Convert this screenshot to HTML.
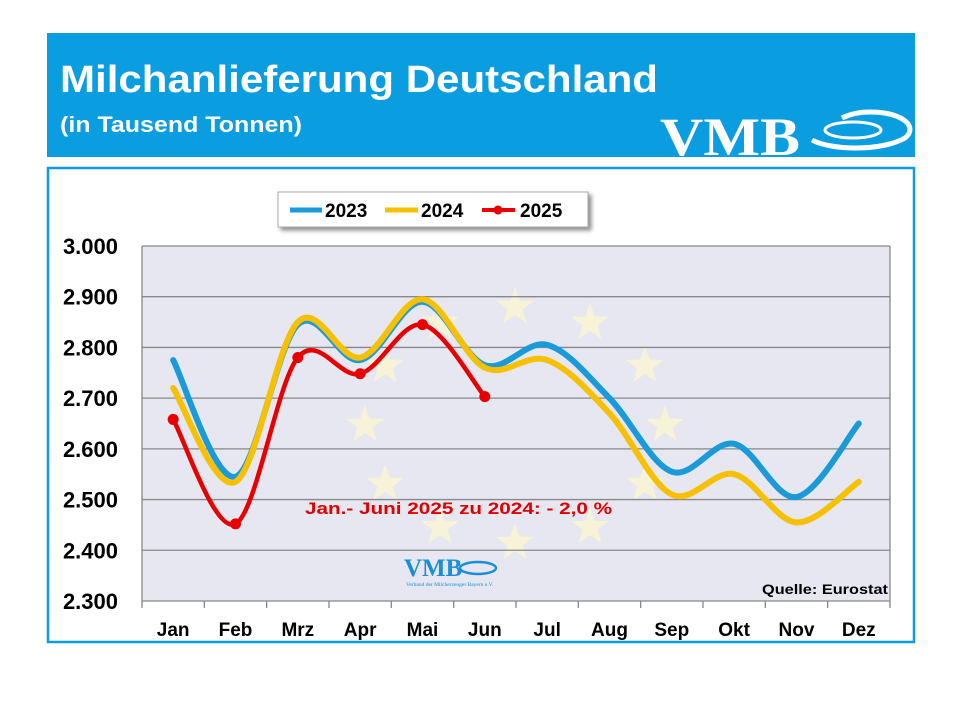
<!DOCTYPE html>
<html><head><meta charset="utf-8"><style>
body{margin:0;width:960px;height:720px;background:#fff;position:relative;overflow:hidden;font-family:"Liberation Sans",sans-serif}
</style></head><body>
<svg width="960" height="720" viewBox="0 0 960 720" xmlns="http://www.w3.org/2000/svg" id="s">
<defs>
<filter id="sh" x="-10%" y="-10%" width="130%" height="150%"><feDropShadow dx="3" dy="3" stdDeviation="2" flood-color="#000" flood-opacity="0.45"/></filter>
<symbol id="star" viewBox="-1 -1 2 2"><polygon points="0,-1 0.235,-0.324 0.951,-0.309 0.38,0.124 0.588,0.809 0,0.4 -0.588,0.809 -0.38,0.124 -0.951,-0.309 -0.235,-0.324" fill="#f6f3d8"/></symbol>
</defs>
<rect x="47" y="33" width="868" height="124" fill="#0a9ddf"/>
<text x="60" y="92" fill="#fff" font-size="38" font-weight="bold" font-family="Liberation Sans, sans-serif" textLength="598" lengthAdjust="spacingAndGlyphs">Milchanlieferung Deutschland</text>
<text x="60" y="132" fill="#fff" font-size="22" font-weight="bold" font-family="Liberation Sans, sans-serif" textLength="242" lengthAdjust="spacingAndGlyphs">(in Tausend Tonnen)</text>
<text x="660" y="155" fill="#fff" font-size="54" font-weight="bold" font-family="Liberation Serif, serif" textLength="140" lengthAdjust="spacingAndGlyphs">VMB</text>
<path d="M812,140 C830,150 880,152 905,138 C918,128 905,112 870,112 C860,112 850,114 842,118" fill="none" stroke="#fff" stroke-width="5"/>
<ellipse cx="853" cy="130" rx="28" ry="8" fill="none" stroke="#fff" stroke-width="3"/>
<rect x="48" y="168" width="866" height="474" fill="#fff" stroke="#0a9ddf" stroke-width="2.5"/>
<rect x="142" y="246" width="748" height="355" fill="#e6e7f1"/>
<g id="stars"></g>
<g id="grid" stroke="#888" stroke-width="1.3"></g>
<g id="lines"></g>
<g font-family="Liberation Sans, sans-serif" font-weight="bold" font-size="22" fill="#000" text-anchor="end" id="ylab"></g>
<g font-family="Liberation Sans, sans-serif" font-weight="bold" font-size="19" fill="#000" text-anchor="middle" id="xlab"></g>
<text x="305" y="514" fill="#e00000" font-size="17" font-weight="bold" font-family="Liberation Sans, sans-serif" textLength="307" lengthAdjust="spacingAndGlyphs">Jan.- Juni 2025 zu 2024: - 2,0 %</text>
<text x="762" y="594" fill="#000" font-size="14" font-weight="bold" font-family="Liberation Sans, sans-serif" textLength="126" lengthAdjust="spacingAndGlyphs">Quelle: Eurostat</text>
<text x="404" y="576" fill="#1a8fd6" font-size="25" font-weight="bold" font-family="Liberation Serif, serif">VMB</text>
<ellipse cx="478" cy="568" rx="18" ry="6" fill="none" stroke="#1a8fd6" stroke-width="2.5"/>
<text x="406" y="586" fill="#1a8fd6" font-size="5.5" font-family="Liberation Serif, serif">Verband der Milcherzeuger Bayern e.V.</text>
<rect x="278" y="192" width="310" height="35" fill="#fff" stroke="#aaa" filter="url(#sh)"/>
<g font-family="Liberation Sans, sans-serif" font-weight="bold" font-size="19" fill="#000">
<line x1="290" y1="210" x2="322" y2="210" stroke="#1a9ad8" stroke-width="5"/><text x="325" y="217">2023</text>
<line x1="385" y1="210" x2="418" y2="210" stroke="#f7c000" stroke-width="5"/><text x="421" y="217">2024</text>
<line x1="482" y1="210" x2="515" y2="210" stroke="#e80000" stroke-width="4"/><circle cx="498" cy="210" r="4.5" fill="#e80000"/><text x="520" y="217">2025</text>
</g>
</svg>
<script>
const NS="http://www.w3.org/2000/svg";
function el(t,a,p){const e=document.createElementNS(NS,t);for(const k in a)e.setAttribute(k,a[k]);document.getElementById(p).appendChild(e);return e;}
const y=v=>246+(3000-v)*0.5071, x=i=>142+62.33*(i+0.5);
for(let k=0;k<12;k++){const a=k*Math.PI/6;el('use',{href:'#star',x:515+150*Math.cos(a)-20,y:425+118*Math.sin(a)-20,width:40,height:40},'stars');}
for(let v=2300;v<=3000;v+=100){el('line',{x1:142,x2:890,y1:y(v),y2:y(v)},'grid');
 const t=el('text',{x:118,y:y(v)+8},'ylab');t.textContent=(v/1000).toFixed(3);}
el('line',{x1:142,x2:142,y1:246,y2:601},'grid');el('line',{x1:890,x2:890,y1:246,y2:601},'grid');
for(let i=0;i<=12;i++){el('line',{x1:142+62.33*i,x2:142+62.33*i,y1:601,y2:608},'grid');}
const m=["Jan","Feb","Mrz","Apr","Mai","Jun","Jul","Aug","Sep","Okt","Nov","Dez"];
m.forEach((s,i)=>{el('text',{x:x(i),y:636},'xlab').textContent=s;});
function path(d){const p=d.map((v,i)=>[x(i),y(v)]);let s=`M${p[0]}`;
for(let i=0;i<p.length-1;i++){const p0=p[i-1]||p[i],p1=p[i],p2=p[i+1],p3=p[i+2]||p2;
const c1=[p1[0]+(p2[0]-p0[0])/6,p1[1]+(p2[1]-p0[1])/6],c2=[p2[0]-(p3[0]-p1[0])/6,p2[1]-(p3[1]-p1[1])/6];
s+=`C${c1} ${c2} ${p2}`;}return s;}
const d23=[2775,2545,2845,2775,2890,2765,2805,2700,2555,2610,2505,2650];
const d24=[2720,2535,2850,2780,2895,2760,2775,2670,2510,2550,2455,2535];
const d25=[2658,2452,2780,2748,2845,2703];
el('path',{d:path(d23),fill:'none',stroke:'#1a9ad8','stroke-width':6,'stroke-linecap':'round'},'lines');
el('path',{d:path(d24),fill:'none',stroke:'#f7c000','stroke-width':6,'stroke-linecap':'round'},'lines');
el('path',{d:path(d25),fill:'none',stroke:'#e80000','stroke-width':4.5,'stroke-linecap':'round'},'lines');
d25.forEach((v,i)=>el('circle',{cx:x(i),cy:y(v),r:5.5,fill:'#e80000'},'lines'));
</script>
</body></html>
